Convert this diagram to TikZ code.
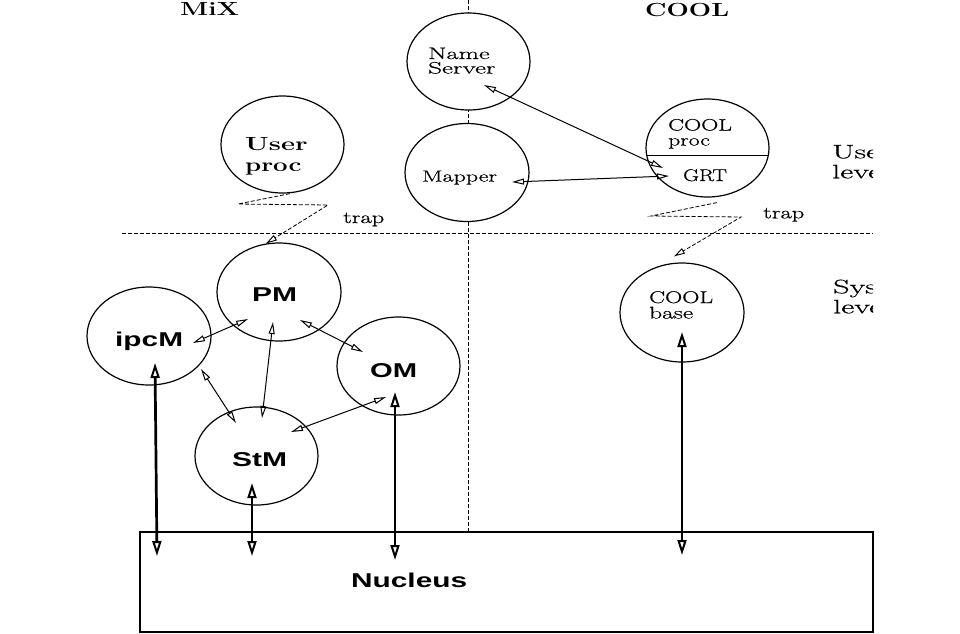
\documentclass[tikz,border=0pt]{standalone}
\usepackage{fontspec}
\usepackage{graphicx}
\newfontfamily\hvfont{Liberation Sans}
\newfontfamily\rmheavy{Latin Modern Roman}[FakeBold=0.5]
\usetikzlibrary{arrows.meta,shapes.geometric}
\newcommand\rmtxt[3]{\rmheavy\fontsize{#1}{#1}\selectfont\scalebox{#2}[1]{#3}}
\newcommand\bftxt[3]{\fontsize{#1}{#1}\selectfont\bfseries\scalebox{#2}[1]{#3}}
\newcommand\sftxt[2]{\hvfont\fontsize{20}{20}\selectfont\bfseries\scalebox{#1}[1]{#2}}
\begin{document}
\begin{tikzpicture}[x=1pt,y=-1pt,
  ell/.style={draw,ellipse,fill=white,line width=1.2pt,inner sep=0pt},
  lbl/.style={inner sep=0pt,anchor=base west},
  dsh/.style={dash pattern=on 4pt off 2pt,line width=0.8pt},
  biarr/.style={line width=1pt,{Triangle[open,length=12pt,width=6pt]}-{Triangle[open,length=12pt,width=6pt]}},
  bigarr/.style={line width=2.7pt,{Triangle[open,length=15pt,width=9pt,line width=2pt]}-{Triangle[open,length=15pt,width=9pt,line width=2pt]}},
  traparr/.style={dsh,-{Triangle[open,length=11pt,width=6pt,line width=0.9pt]}}
]
\useasboundingbox (0,0) rectangle (960,633);
\fill[white] (0,0) rectangle (960,633);

% dashed separators
\coordinate (vtop) at (468,0);
\coordinate (vbot) at (468,532);
\coordinate (hl) at (122,233);
\coordinate (hr) at (873,233);
\draw[dsh] (vtop) -- (vbot);
\draw[dsh] (hl) -- (hr);

% nucleus box
\node[draw,fill=white,minimum width=733pt,minimum height=100pt,inner sep=0pt,line width=1.3pt] (nuc) at (506.5,582) {};

% ellipses
\node[ell,minimum width=123pt,minimum height=97pt] (ns) at (468.5,61.5) {};
\node[ell,minimum width=124pt,minimum height=98pt] (map) at (467,172.5) {};
\node[ell,minimum width=123pt,minimum height=97pt] (up) at (282.5,144.5) {};
\node[ell,minimum width=123pt,minimum height=98pt] (cp) at (707.5,148) {};
\draw[line width=1.2pt] ([shift={(-60.7,7.7)}]cp.center) -- ([shift={(60.7,7.7)}]cp.center);
\node[ell,minimum width=124pt,minimum height=98pt] (pm) at (279,292) {};
\node[ell,minimum width=124pt,minimum height=98pt] (ipcm) at (149,336) {};
\node[ell,minimum width=123pt,minimum height=98pt] (om) at (398.5,366) {};
\node[ell,minimum width=123pt,minimum height=98pt] (stm) at (256.5,456) {};
\node[ell,minimum width=124pt,minimum height=99pt] (cb) at (682,312.5) {};

% titles
\node[lbl] (tmix) at (180,15) {\bftxt{19}{1.39}{MiX}};
\node[lbl] (tcool) at (645,16) {\bftxt{19}{1.39}{COOL}};

% serif labels
\node[lbl] (tname) at (428,59) {\rmtxt{16.5}{1.6}{Name}};
\node[lbl] (tserver) at (428,73.5) {\rmtxt{16.5}{1.64}{Server}};
\node[lbl] (tmapper) at (422,181.5) {\rmtxt{16}{1.5}{Mapper}};
\node[lbl] (tuser) at (245,150.5) {\bftxt{19}{1.44}{User}};
\node[lbl] (tuproc) at (245,171.5) {\bftxt{19}{1.36}{proc}};
\node[lbl] (tcool1) at (668,130.5) {\rmtxt{16.5}{1.44}{COOL}};
\node[lbl] (tproc) at (668,145.5) {\rmtxt{16.5}{1.44}{proc}};
\node[lbl] (tgrt) at (683,181) {\rmtxt{17}{1.29}{GRT}};
\node[lbl] (tcool2) at (649,303) {\rmtxt{17}{1.4}{COOL}};
\node[lbl] (tbase) at (649,318.5) {\rmtxt{17}{1.49}{base}};
\node[lbl] (ttrap1) at (343,223) {\rmtxt{17}{1.44}{trap}};
\node[lbl] (ttrap2) at (763,218.3) {\rmtxt{17}{1.44}{trap}};

\begin{scope}
\clip (800,120) rectangle (873,330);
\node[lbl] (tul1) at (832,158.3) {\rmtxt{19.5}{1.65}{User}};
\node[lbl] (tul2) at (832,178.3) {\rmtxt{19.5}{1.65}{level}};
\node[lbl] (tsl1) at (833,293.3) {\rmtxt{19.5}{1.65}{System}};
\node[lbl] (tsl2) at (833,313.3) {\rmtxt{19.5}{1.65}{level}};
\end{scope}

% sans labels
\node[lbl] (tpm) at (252,301.7) {\sftxt{1.5}{PM}};
\node[lbl] (tipcm) at (115,346.7) {\sftxt{1.49}{ipcM}};
\node[lbl] (tom) at (370,377.3) {\sftxt{1.46}{OM}};
\node[lbl] (tstm) at (232,466) {\sftxt{1.5}{StM}};
\node[lbl] (tnuc) at (351,587.7) {\sftxt{1.49}{Nucleus}};

% trap zigzags
\coordinate (z1a) at (238,204);
\coordinate (z1b) at (328,205);
\draw[traparr] ([xshift=7.5pt]up.south) -- (z1a) -- (z1b) -- (pm.105);
\coordinate (z2a) at (651,216);
\coordinate (z2b) at (741,217);
\draw[traparr] ([shift={(9.5,5)}]cp.south) -- (z2a) -- (z2b) -- ([shift={(-8,-6)}]cb.north);

% thin double arrows
\draw[biarr] ([shift={(15.5,23.5)}]ns.center) -- ([shift={(-44.5,20)}]cp.center);
\draw[biarr] ([shift={(45,9.5)}]map.center) -- ([shift={(-38.5,28)}]cp.center);
\draw[biarr] ([shift={(44,7)}]ipcm.center) -- ([shift={(-31,27)}]pm.center);
\draw[biarr] ([shift={(-6,30)}]pm.center) -- ([shift={(5.5,-38)}]stm.center);
\draw[biarr] ([shift={(21,28)}]pm.center) -- ([shift={(-35.5,-14)}]om.center);
\draw[biarr] ([shift={(52,33)}]ipcm.center) -- ([shift={(-20.5,-33)}]stm.center);
\draw[biarr] ([shift={(34.5,-24)}]stm.center) -- ([shift={(-12.5,31)}]om.center);

% thick double arrows to nucleus
\draw[bigarr] ([shift={(6,27)}]ipcm.center) -- ([shift={(-349.5,-26)}]nuc.center);
\draw[bigarr] ([shift={(-4.5,27)}]stm.center) -- ([shift={(-254.5,-26)}]nuc.center);
\draw[bigarr] ([shift={(-3.5,26)}]om.center) -- ([shift={(-111.5,-22)}]nuc.center);
\draw[bigarr] ([shift={(0,19.5)}]cb.center) -- ([shift={(175.5,-27)}]nuc.center);
\end{tikzpicture}
\end{document}
